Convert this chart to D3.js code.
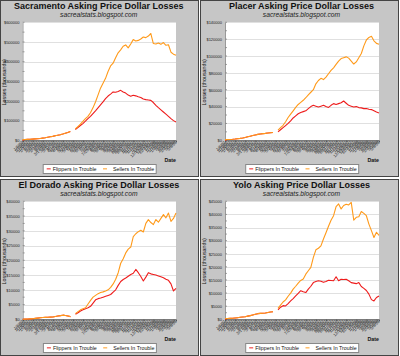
<!DOCTYPE html>
<html><head><meta charset="utf-8">
<script src="https://cdn.jsdelivr.net/npm/d3@7"></script>
<style>
body{margin:0;background:#fff}
svg{display:block}
text{font-family:"Liberation Sans",Arial,sans-serif}
</style>
</head><body>
<svg id="c" width="400" height="356"></svg>
<script>
// ---- categories (weekly dates) ----
const dates = ["1/6/07","1/13/07","1/20/07","1/27/07","2/3/07","2/10/07","2/17/07","2/24/07","3/3/07","3/10/07",
"3/17/2007","3/24/07","3/31/07","4/7/07","4/14/07","4/21/07","4/28/07","5/5/07","5/12/07","5/19/07",
"5/26/07","6/2/07","6/9/07","6/16/07","6/23/07","6/30/07","7/7/07","7/14/07","7/21/07","7/28/2007",
"8/4/07","8/11/07","8/18/07","8/25/07","9/1/07","9/8/07","9/15/07","9/22/07","9/29/07","10/6/07",
"10/13/07","10/20/07","10/27/07","11/3/07","11/10/07","11/17/07","11/24/07","12/1/07","12/8/07","12/15/2007",
"12/22/07","12/29/07","1/5/08","1/12/08","1/19/08","1/26/08","2/2/08","2/9/08","2/16/08","2/23/08",
"3/1/08","3/8/08"];

const seriesNames = ["Flippers In Trouble","Sellers In Trouble"];

// ---- Sacramento ----
const sacFlippers = [0,4000,4500,5000,6000,7000,8000,9000,11000,13000,15500,18000,20000,23000,26000,28500,32000,36000,40000,45000,null,
55000,65000,75000,85000,97000,110000,122000,136000,150000,165000,180000,195000,212000,225000,235000,246000,244000,248000,254000,246000,
240000,230000,224000,229000,226000,221000,218000,210000,207000,205000,203000,192000,178000,166000,155000,144000,133000,122000,110000,100000,93000];
const sacSellers = [3500,4000,4500,5000,6000,7000,8000,9000,11000,13000,15500,18000,20000,23000,26000,28500,32000,36000,40000,45000,null,
58000,70000,82000,96000,110000,122000,140000,165000,195000,230000,265000,290000,315000,350000,378000,392000,420000,445000,460000,478000,
485000,470000,490000,512000,505000,508000,515000,525000,522000,530000,543000,492000,490000,495000,488000,497000,483000,486000,448000,438000,432000];
const sacTicks = [0,100000,200000,300000,400000,500000,600000];

// ---- Placer ----
const placerFlippers = [0,900,1000,1200,1500,1900,2300,2800,3400,4200,4900,5600,6300,7000,7500,7900,8200,8600,9000,9300,null,
10000,12500,15000,17500,20000,23000,26500,29000,31500,33000,34000,35000,37500,40000,41500,40500,39500,40500,41500,40000,
39000,41500,43500,42500,43500,44500,46600,44000,41500,40500,39500,40000,38800,38500,37600,37800,36800,36400,35000,33500,32400];
const placerSellers = [800,900,1000,1200,1500,1900,2300,2800,3400,4200,4900,5600,6300,7000,7500,7900,8200,8600,9000,9300,null,
12000,15000,17800,22000,27000,31000,35000,39000,42500,45000,47500,50500,54000,57000,60000,67000,71000,73500,72000,75000,
79000,83000,86000,90000,94000,97000,98000,99000,97500,94000,90500,93000,98000,103000,112000,119000,122000,123400,118000,115000,114000];
const placerTicks = [0,20000,40000,60000,80000,100000,120000,140000];

// ---- El Dorado ----
const elDoradoFlippers = [0,50,100,150,200,300,400,500,600,650,700,750,800,950,1100,1250,1400,1300,1100,900,null,
1700,2200,2800,3200,3600,3900,4400,5500,6600,7000,7200,7500,7800,8100,8400,9200,10000,11500,12800,13500,
14000,14600,15200,15600,16900,15800,14500,13000,14300,15800,15400,15200,15000,14700,14400,14100,13600,13200,12000,9600,10500];
const elDoradoSellers = [0,50,100,150,200,300,400,500,600,650,700,750,800,950,1100,1250,1400,1300,1100,900,null,
1900,2600,3200,3600,3900,5200,6400,7500,8100,8700,9100,9300,9600,10000,10800,12000,13600,15800,19000,20500,
22500,23800,24500,28000,29000,29700,30200,29600,32500,33800,32800,32100,33800,32900,34200,35500,34400,36000,33200,34200,36000];
const elDoradoTicks = [0,5000,10000,15000,20000,25000,30000,35000,40000];

// ---- Yolo ----
const yoloFlippers = [0,330,360,400,500,620,760,900,1000,1200,1400,1650,1900,2150,2250,2300,2400,2600,2800,2900,null,
3600,4600,5200,5100,6000,7000,7900,8900,9900,10900,10500,10200,11500,12600,14000,14400,14700,14500,14100,14400,
14900,14800,14700,16200,14700,15300,15200,15300,14700,14000,13800,13600,14000,12500,11800,11000,9600,7500,7000,8300,8900];
const yoloSellers = [300,330,360,400,500,620,760,900,1000,1200,1400,1650,1900,2150,2250,2300,2400,2600,2800,2900,null,
4200,5400,6600,7400,8800,10000,11500,12600,13800,14800,15400,17200,18500,19800,23600,26500,27100,28000,30600,33000,
35500,37800,39500,43000,44000,42100,43400,43900,43600,44600,37800,38900,39100,41100,40400,39500,36300,33800,31200,33200,32000];
const yoloTicks = [0,5000,10000,15000,20000,25000,30000,35000,40000,45000];

const titles = ["Sacramento Asking Price Dollar Losses","Placer Asking Price Dollar Losses",
                "El Dorado Asking Price Dollar Losses","Yolo Asking Price Dollar Losses"];
const subtitle = "sacrealstats.blogspot.com";

// ---- layout ----
const panels = [
  {title:titles[0], flip:sacFlippers, sell:sacSellers, ticks:sacTicks, ox:0, oy:0, left:22.5, right:176},
  {title:titles[1], flip:placerFlippers, sell:placerSellers, ticks:placerTicks, ox:200, oy:0, left:25, right:179},
  {title:titles[2], flip:elDoradoFlippers, sell:elDoradoSellers, ticks:elDoradoTicks, ox:0, oy:179, left:22.7, right:176},
  {title:titles[3], flip:yoloFlippers, sell:yoloSellers, ticks:yoloTicks, ox:200, oy:179, left:25, right:179}
];
const colors = ["#ee1c1c","#ff9a1a"];
const svg = d3.select("#c");

panels.forEach(p => {
  const g = svg.append("g").attr("transform",`translate(${p.ox},${p.oy})`);
  const top = 22.3, bottom = 140.3;
  g.append("rect").attr("x",0.5).attr("y",0.5).attr("width",198).attr("height",176)
    .attr("fill","#c6c6c6").attr("stroke","#444").attr("stroke-width",1);

  const cx = (p.left + p.right)/2 - 0.5;
  g.append("text").attr("x",cx).attr("y",8.6).attr("text-anchor","middle")
    .attr("font-size",9).attr("font-weight","bold").attr("fill","#111").text(p.title);
  g.append("text").attr("x",cx).attr("y",17.3).attr("text-anchor","middle")
    .attr("font-size",6.7).attr("font-style","italic").attr("fill","#222").text(subtitle);

  const x = d3.scalePoint().domain(dates).range([p.left,p.right]);
  const y = d3.scaleLinear().domain([0,d3.max(p.ticks)]).range([bottom,top]);

  g.append("rect").attr("x",p.left).attr("y",top).attr("width",p.right-p.left).attr("height",bottom-top)
    .attr("fill","#fff");

  // gridlines
  g.append("g").selectAll("line").data(p.ticks.slice(1)).join("line")
    .attr("x1",p.left).attr("x2",p.right).attr("y1",d=>Math.round(y(d))+0.5).attr("y2",d=>Math.round(y(d))+0.5)
    .attr("stroke","#e0e0e0").attr("stroke-width",1);

  // y axis
  const yAxis = d3.axisLeft(y).tickValues(p.ticks).tickFormat(d=>"$"+d).tickSize(0).tickPadding(3);
  const ya = g.append("g").attr("transform",`translate(${p.left},0)`).call(yAxis);
  ya.select(".domain").attr("stroke","#999");
  ya.selectAll("text").attr("font-size",4).attr("fill","#222").attr("font-family","Liberation Sans, Arial, sans-serif");
  // tick marks (major + minor) inside plot
  const step = p.ticks[1]-p.ticks[0];
  const minor = p.ticks.slice(0,-1).map(t=>t+step/2);
  g.append("g").selectAll("line").data(p.ticks.concat(minor)).join("line")
    .attr("x1",p.left).attr("x2",p.left+2).attr("y1",d=>y(d)).attr("y2",d=>y(d))
    .attr("stroke","#888").attr("stroke-width",0.8);

  // x axis
  const xAxis = d3.axisBottom(x).tickValues(dates.filter((d,i)=>i%4===0)).tickSize(2).tickFormat("");
  const xa = g.append("g").attr("transform",`translate(0,${bottom})`).call(xAxis);
  xa.select(".domain").attr("stroke","#555");
  xa.selectAll("line").attr("stroke","#666");
  g.append("g").selectAll("text").data(dates).join("text")
    .attr("transform",d=>`translate(${x(d)+1},${bottom+2.5}) rotate(-45)`)
    .attr("text-anchor","end").attr("font-size",4.2).attr("fill","#2a2a2a").text(d=>d);

  // lines
  [p.flip,p.sell].forEach((s,k)=>{
    const line = d3.line().defined(d=>d!=null).x((d,i)=>x(dates[i])).y(d=>y(d));
    g.append("path").datum(s).attr("d",line).attr("fill","none")
      .attr("stroke",colors[k]).attr("stroke-width",1.1).attr("stroke-linejoin","round");
  });

  // axis titles
  g.append("text").attr("transform",`translate(6.3,${(top+bottom)/2+1}) rotate(-90)`)
    .attr("text-anchor","middle").attr("font-size",5.3).attr("fill","#111").text("Losses (thousands)");
  g.append("text").attr("x",p.right).attr("y",161.5).attr("text-anchor","end")
    .attr("font-size",5.3).attr("font-weight","bold").attr("fill","#111").text("Date");

  // legend
  const lx = p.left + 20.2, ly = 164;
  const lg = g.append("g").attr("transform",`translate(${lx},${ly})`);
  lg.append("rect").attr("x",0.5).attr("y",0.5).attr("width",113).attr("height",9)
    .attr("fill","#fff").attr("stroke","#888").attr("stroke-width",1);
  const offs = [[4,10],[60.3,70.3]];
  seriesNames.forEach((n,k)=>{
    lg.append("line").attr("x1",offs[k][0]).attr("x2",offs[k][0]+4).attr("y1",4.8).attr("y2",4.8)
      .attr("stroke",colors[k]).attr("stroke-width",1.4).attr("opacity",0.7);
    lg.append("text").attr("x",offs[k][1]).attr("y",6.7).attr("font-size",5.3).attr("fill","#111").text(n);
  });
});
</script>
</body></html>
